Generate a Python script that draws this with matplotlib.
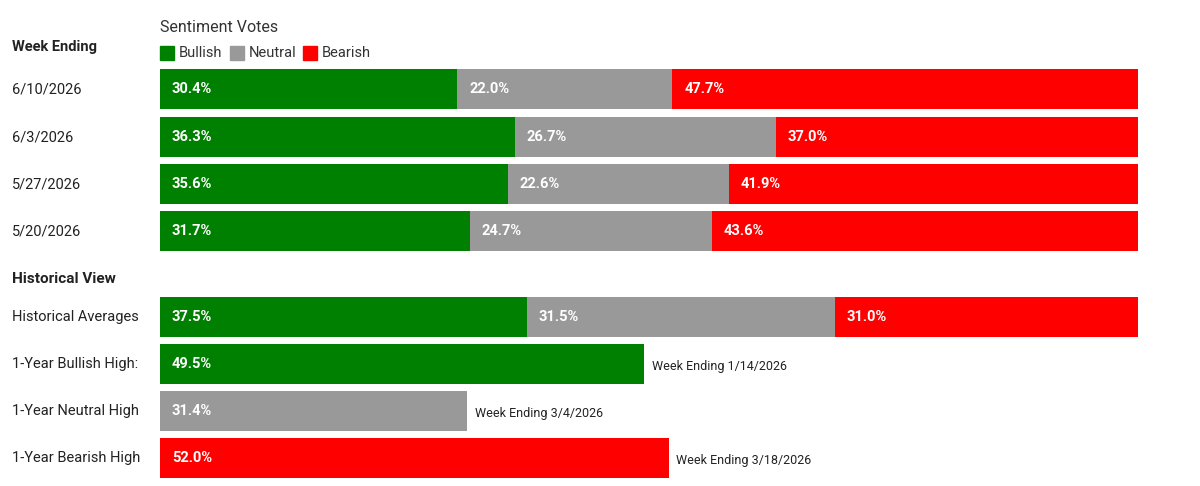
import matplotlib
matplotlib.use("Agg")
import matplotlib.pyplot as plt
from matplotlib.patches import Rectangle

plt.rcParams['font.family'] = ['Roboto', 'DejaVu Sans']

weeks = ["6/10/2026", "6/3/2026", "5/27/2026", "5/20/2026"]
bullish = [30.4, 36.3, 35.6, 31.7]
neutral = [22.0, 26.7, 22.6, 24.7]
bearish = [47.7, 37.0, 41.9, 43.6]

hist_labels = ["Historical Averages", "1-Year Bullish High:", "1-Year Neutral High", "1-Year Bearish High"]
hist_avg = [37.5, 31.5, 31.0]
highs = [49.5, 31.4, 52.0]
high_weeks = ["Week Ending 1/14/2026", "Week Ending 3/4/2026", "Week Ending 3/18/2026"]

GREEN, GRAY, RED = "#008000", "#999999", "#ff0000"
W, H = 1200, 486
fig = plt.figure(figsize=(12, 4.86), dpi=100)
ax = fig.add_axes([160/W, 0, (1138-160)/W, 1])
ax.set_xlim(0, 100)
ax.set_ylim(H, 0)
ax.axis('off')

def px(x):  # pixel x to data
    return (x - 160) / 978 * 100

bh = 40
week_y = [89, 137, 184, 231]
hist_y = [317, 364, 411, 458]

def seg_row(y, vals, cols):
    left = 0
    for v, c in zip(vals, cols):
        ax.barh(y, v, left=left, height=bh, color=c)
        ax.text(left + 1.2, y, f"{v:.1f}%", color="white", fontweight="bold",
                fontsize=10.5, va="center", ha="left")
        left += v

for y, lab, b, n, r in zip(week_y, weeks, bullish, neutral, bearish):
    seg_row(y, [b, n, r], [GREEN, GRAY, RED])
    ax.text(px(12), y, lab, fontsize=10.5, va="center", ha="left", color="#222222")

seg_row(hist_y[0], hist_avg, [GREEN, GRAY, RED])
ax.text(px(12), hist_y[0], hist_labels[0], fontsize=10.5, va="center", color="#222222")
for y, lab, v, c, wk in zip(hist_y[1:], hist_labels[1:], highs, [GREEN, GRAY, RED], high_weeks):
    seg_row(y, [v], [c])
    ax.text(v + 0.8, y + 2, wk, fontsize=9, va="center", color="#222222")
    ax.text(px(12), y, lab, fontsize=10.5, va="center", color="#222222")

ax.text(px(12), 47, "Week Ending", fontsize=10.5, fontweight="bold", va="center", color="#222222")
ax.text(px(12), 279, "Historical View", fontsize=11, fontweight="bold", va="center", color="#222222")
ax.text(px(160), 28, "Sentiment Votes", fontsize=11.5, va="center", color="#333333")
for x0, lab, c in [(160, "Bullish", GREEN), (230, "Neutral", GRAY), (303, "Bearish", RED)]:
    ax.add_patch(Rectangle((px(x0), 46), px(174) - px(160), 14, color=c, clip_on=False))
    ax.text(px(x0 + 19), 53, lab, fontsize=10.5, va="center", color="#333333")

fig.savefig("out.png", dpi=100)
